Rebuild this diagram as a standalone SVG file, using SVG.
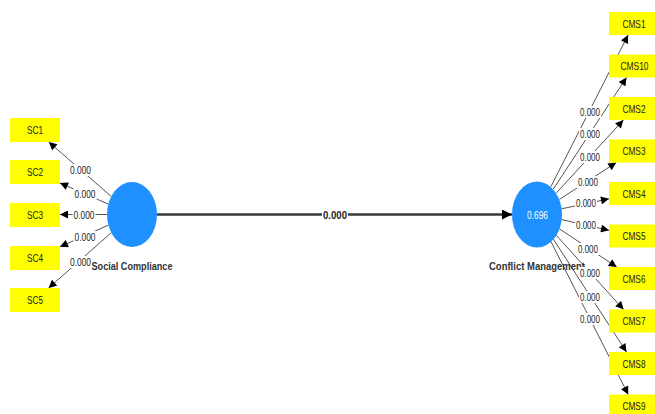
<svg xmlns="http://www.w3.org/2000/svg" width="655" height="414" viewBox="0 0 655 414">
<defs>
<style>
.ind{stroke:#555;stroke-width:1;fill:none;marker-end:url(#ah)}
.main{stroke:#3a3a3a;stroke-width:2.6;fill:none;marker-end:url(#ahm)}
.box{fill:#FFFF00}
.lv{fill:#1E90FF}
.bt{font-family:"Liberation Sans",Arial,sans-serif;font-size:11px;fill:#222;text-anchor:middle}
.nt{font-family:"Liberation Sans",Arial,sans-serif;font-size:11px;font-weight:bold;fill:#333;text-anchor:middle}
.vt{font-family:"Liberation Sans",Arial,sans-serif;font-size:10.5px;fill:#fff;text-anchor:middle}
.lb{font-family:"Liberation Sans",Arial,sans-serif;font-size:10.5px;fill:#222;text-anchor:middle}
.lbg{fill:#fff}
</style>
<marker id="ah" viewBox="0 0 10 10" refX="10" refY="5" markerWidth="9" markerHeight="8" markerUnits="userSpaceOnUse" orient="auto"><path d="M0,0L10,5L0,10z" fill="#000"/></marker>
<marker id="ahm" viewBox="0 0 10 10" refX="10" refY="5" markerWidth="10" markerHeight="10" markerUnits="userSpaceOnUse" orient="auto"><path d="M0,0L10,5L0,10z" fill="#000"/></marker>
</defs>
<rect width="655" height="414" fill="#fff"/>
<g id="connectors">
<line class="main" x1="157" y1="214.5" x2="512" y2="214.5"/>
<line class="ind" x1="111.2" y1="196.4" x2="48.8" y2="142"/>
<line class="ind" x1="108.3" y1="204.1" x2="60" y2="183"/>
<line class="ind" x1="107" y1="214.5" x2="60" y2="214.5"/>
<line class="ind" x1="108.4" y1="225.1" x2="60" y2="246.8"/>
<line class="ind" x1="111.3" y1="232.7" x2="48.6" y2="288"/>
<line class="ind" x1="550.9" y1="186.6" x2="628.1" y2="35"/>
<line class="ind" x1="553.4" y1="189" x2="626.5" y2="77.5"/>
<line class="ind" x1="556.3" y1="193" x2="623.4" y2="120"/>
<line class="ind" x1="559.4" y1="199.4" x2="616.3" y2="162.5"/>
<line class="ind" x1="561.7" y1="208.8" x2="609" y2="198.8"/>
<line class="ind" x1="561.6" y1="219.6" x2="609" y2="230.3"/>
<line class="ind" x1="559.3" y1="228.8" x2="616.7" y2="267"/>
<line class="ind" x1="556.2" y1="235.2" x2="623.6" y2="309.5"/>
<line class="ind" x1="553.3" y1="239.1" x2="626.5" y2="352"/>
<line class="ind" x1="550.9" y1="241.5" x2="628.2" y2="394.5"/>
</g>
<g id="SC1"><rect class="box" x="10" y="118" width="50" height="24"/><text class="bt" x="35" y="134" textLength="16" lengthAdjust="spacingAndGlyphs">SC1</text></g>
<g id="SC2"><rect class="box" x="10" y="160" width="50" height="24"/><text class="bt" x="35" y="176" textLength="16" lengthAdjust="spacingAndGlyphs">SC2</text></g>
<g id="SC3"><rect class="box" x="10" y="203" width="50" height="24"/><text class="bt" x="35" y="219" textLength="16" lengthAdjust="spacingAndGlyphs">SC3</text></g>
<g id="SC4"><rect class="box" x="10" y="246" width="50" height="24"/><text class="bt" x="35" y="262" textLength="16" lengthAdjust="spacingAndGlyphs">SC4</text></g>
<g id="SC5"><rect class="box" x="10" y="288" width="50" height="24"/><text class="bt" x="35" y="304" textLength="16" lengthAdjust="spacingAndGlyphs">SC5</text></g>
<g id="CMS1"><rect class="box" x="609" y="12" width="50" height="23"/><text class="bt" x="634" y="27.5" textLength="23" lengthAdjust="spacingAndGlyphs">CMS1</text></g>
<g id="CMS10"><rect class="box" x="609" y="54.5" width="50" height="23"/><text class="bt" x="634.5" y="70" textLength="28" lengthAdjust="spacingAndGlyphs">CMS10</text></g>
<g id="CMS2"><rect class="box" x="609" y="97" width="50" height="23"/><text class="bt" x="634" y="112.5" textLength="23" lengthAdjust="spacingAndGlyphs">CMS2</text></g>
<g id="CMS3"><rect class="box" x="609" y="139.5" width="50" height="23"/><text class="bt" x="634" y="155" textLength="23" lengthAdjust="spacingAndGlyphs">CMS3</text></g>
<g id="CMS4"><rect class="box" x="609" y="182" width="50" height="23"/><text class="bt" x="634" y="197.5" textLength="23" lengthAdjust="spacingAndGlyphs">CMS4</text></g>
<g id="CMS5"><rect class="box" x="609" y="224.5" width="50" height="23"/><text class="bt" x="634" y="240" textLength="23" lengthAdjust="spacingAndGlyphs">CMS5</text></g>
<g id="CMS6"><rect class="box" x="609" y="267" width="50" height="23"/><text class="bt" x="634" y="282.5" textLength="23" lengthAdjust="spacingAndGlyphs">CMS6</text></g>
<g id="CMS7"><rect class="box" x="609" y="309.5" width="50" height="23"/><text class="bt" x="634" y="325" textLength="23" lengthAdjust="spacingAndGlyphs">CMS7</text></g>
<g id="CMS8"><rect class="box" x="609" y="352" width="50" height="23"/><text class="bt" x="634" y="367.5" textLength="23" lengthAdjust="spacingAndGlyphs">CMS8</text></g>
<g id="CMS9"><rect class="box" x="609" y="394.5" width="50" height="23"/><text class="bt" x="634" y="410" textLength="23" lengthAdjust="spacingAndGlyphs">CMS9</text></g>
<g id="SocialCompliance"><ellipse class="lv" cx="132" cy="214.5" rx="25" ry="32.5"/><text class="nt" x="132" y="270" textLength="81" lengthAdjust="spacingAndGlyphs">Social Compliance</text></g>
<g id="ConflictManagement"><ellipse class="lv" cx="537" cy="214.5" rx="25" ry="33"/><text class="vt" x="537.5" y="218.5" textLength="21" lengthAdjust="spacingAndGlyphs">0.696</text><text class="nt" x="537" y="270" textLength="96" lengthAdjust="spacingAndGlyphs">Conflict Management</text></g>
<g id="connector-labels">
<rect class="lbg" x="322" y="208.5" width="26" height="12"/><text class="lb" x="335" y="218.5" font-weight="bold" textLength="24" lengthAdjust="spacingAndGlyphs">0.000</text>
<rect class="lbg" x="69" y="164" width="23" height="12"/><text class="lb" x="80.5" y="174" textLength="21" lengthAdjust="spacingAndGlyphs">0.000</text>
<rect class="lbg" x="73.5" y="188" width="23" height="12"/><text class="lb" x="85" y="198" textLength="21" lengthAdjust="spacingAndGlyphs">0.000</text>
<rect class="lbg" x="72.5" y="209" width="23" height="12"/><text class="lb" x="84" y="219" textLength="21" lengthAdjust="spacingAndGlyphs">0.000</text>
<rect class="lbg" x="73.5" y="231" width="23" height="12"/><text class="lb" x="85" y="241" textLength="21" lengthAdjust="spacingAndGlyphs">0.000</text>
<rect class="lbg" x="69" y="256" width="23" height="12"/><text class="lb" x="80.5" y="266" textLength="21" lengthAdjust="spacingAndGlyphs">0.000</text>
<rect class="lbg" x="579" y="106" width="22" height="12"/><text class="lb" x="590" y="116" textLength="20" lengthAdjust="spacingAndGlyphs">0.000</text>
<rect class="lbg" x="579" y="128" width="22" height="12"/><text class="lb" x="590" y="138" textLength="20" lengthAdjust="spacingAndGlyphs">0.000</text>
<rect class="lbg" x="579" y="151" width="22" height="12"/><text class="lb" x="590" y="161" textLength="20" lengthAdjust="spacingAndGlyphs">0.000</text>
<rect class="lbg" x="577" y="176" width="22" height="12"/><text class="lb" x="588" y="186" textLength="20" lengthAdjust="spacingAndGlyphs">0.000</text>
<rect class="lbg" x="575" y="197" width="22" height="12"/><text class="lb" x="586" y="207" textLength="20" lengthAdjust="spacingAndGlyphs">0.000</text>
<rect class="lbg" x="575" y="219" width="22" height="12"/><text class="lb" x="586" y="229" textLength="20" lengthAdjust="spacingAndGlyphs">0.000</text>
<rect class="lbg" x="577" y="243" width="22" height="12"/><text class="lb" x="588" y="253" textLength="20" lengthAdjust="spacingAndGlyphs">0.000</text>
<rect class="lbg" x="579" y="267" width="22" height="12"/><text class="lb" x="590" y="277" textLength="20" lengthAdjust="spacingAndGlyphs">0.000</text>
<rect class="lbg" x="579" y="291" width="22" height="12"/><text class="lb" x="590" y="301" textLength="20" lengthAdjust="spacingAndGlyphs">0.000</text>
<rect class="lbg" x="579" y="313" width="22" height="12"/><text class="lb" x="590" y="323" textLength="20" lengthAdjust="spacingAndGlyphs">0.000</text>
</g>
</svg>
